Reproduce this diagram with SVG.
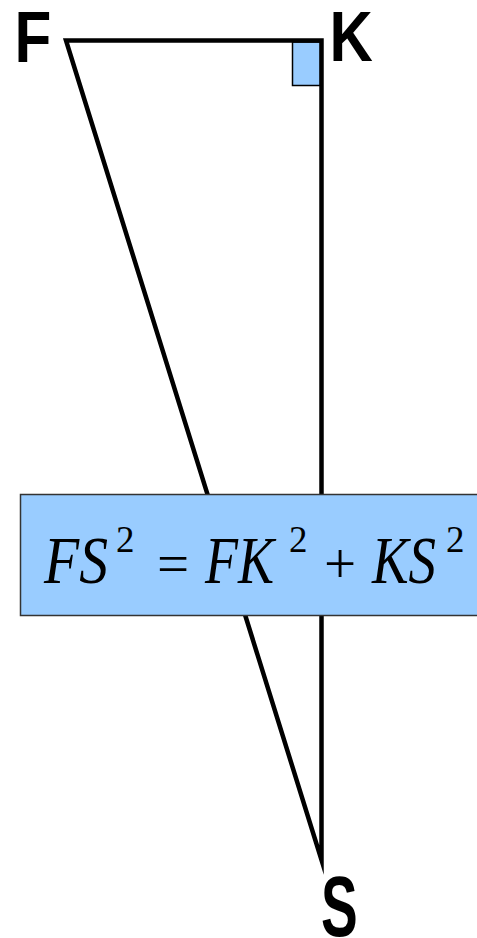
<svg xmlns="http://www.w3.org/2000/svg" width="477" height="938" viewBox="0 0 477 938">
<style>
.lbl{font-family:"Liberation Sans",Arial,sans-serif;font-weight:bold;fill:#000}
.m{font-family:"Liberation Serif","Times New Roman",serif;fill:#000;font-size:68px}
.it{font-style:italic;font-size:68px}
.sup{font-size:37px;font-style:normal}
.op{font-size:57px;font-style:normal}
</style>
<rect width="477" height="938" fill="#fff"/>
<g id="connectors">
<rect x="292.5" y="42" width="28" height="43.5" fill="#99ccff" stroke="#000" stroke-width="1.5"/>
<path d="M66,40.5 L321.5,40.5 L321.5,860 Z" fill="none" stroke="#000" stroke-width="4.5" stroke-linejoin="miter" stroke-miterlimit="10"/>
</g>
<g id="node-F"><text class="lbl" x="14.6" y="62" font-size="72.6" textLength="36.8" lengthAdjust="spacingAndGlyphs">F</text></g>
<g id="node-K"><text class="lbl" x="329.6" y="61" font-size="71" textLength="43.3" lengthAdjust="spacingAndGlyphs">K</text></g>
<g id="node-S"><text class="lbl" x="321" y="936" font-size="86" textLength="36.7" lengthAdjust="spacingAndGlyphs">S</text></g>
<g id="formula">
<rect x="20.5" y="494.5" width="470" height="121" fill="#99ccff" stroke="#333" stroke-width="1.5"/>
<text class="m"><tspan class="it" x="44" y="583" textLength="64" lengthAdjust="spacingAndGlyphs">FS</tspan><tspan class="sup" x="116" y="552">2</tspan><tspan class="op" x="157" y="583">=</tspan><tspan class="it" x="205" y="583" textLength="69" lengthAdjust="spacingAndGlyphs">FK</tspan><tspan class="sup" x="289" y="552">2</tspan><tspan class="op" x="324" y="583">+</tspan><tspan class="it" x="372" y="583" textLength="64" lengthAdjust="spacingAndGlyphs">KS</tspan><tspan class="sup" x="446" y="552">2</tspan></text>
</g>
</svg>
